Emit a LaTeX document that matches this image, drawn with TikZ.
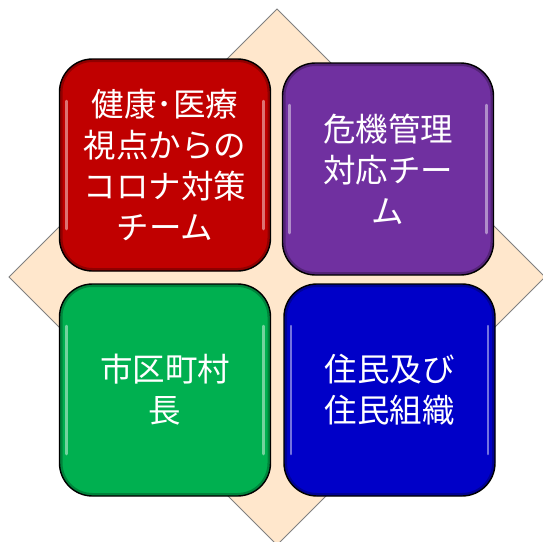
\documentclass[tikz,border=0pt]{standalone}
\usepackage{fontspec}
\newfontfamily\jp{Noto Sans CJK JP}
\definecolor{peach}{HTML}{FFE7CC}
\definecolor{cred}{HTML}{C00000}
\definecolor{cpurple}{HTML}{7030A0}
\definecolor{cgreen}{HTML}{00B050}
\definecolor{cblue}{HTML}{0000C8}
\tikzset{
  gloss/.style={
    path picture={
      \draw[white,opacity=0.45,line width=2.5pt,line cap=round]
        ([xshift=7pt,yshift=-42pt]path picture bounding box.north west) --
        ([xshift=7pt,yshift=42pt]path picture bounding box.south west);
      \draw[white,opacity=0.45,line width=2.5pt,line cap=round]
        ([xshift=-7pt,yshift=-42pt]path picture bounding box.north east) --
        ([xshift=-7pt,yshift=42pt]path picture bounding box.south east);
      \draw[black,opacity=0.25,line width=6pt,rounded corners=33pt]
        (path picture bounding box.south west) rectangle (path picture bounding box.north east);
    }},
  tile/.style={draw=black,line width=1.4pt,fill=#1,rounded corners=33pt,
    minimum width=211pt,minimum height=212pt,inner sep=0pt,
    text=white,align=center,gloss,
    font=\jp\fontsize{32.5}{41}\selectfont},
  diam/.style={fill=peach,draw=gray,line width=0.8pt}
}
\begin{document}
\begin{tikzpicture}[x=1pt,y=-1pt]
\useasboundingbox (0,0) rectangle (543,541);
\clip (0,0) rectangle (543,541);
\coordinate (dt) at (277,9);
\coordinate (dr) at (545,277);
\coordinate (db) at (277,545);
\coordinate (dl) at (9,277);
\path[diam] (dt) -- (dr) -- (db) -- (dl) -- cycle;
\node[tile=cred] (red) at (165,165) {健康･医療\\視点からの\\コロナ対策\\チーム};
\node[tile=cpurple] (purple) at (388,169) {危機管理\\対応チー\\ム};
\node[tile=cgreen] (green) at (165,390) {市区町村\\長};
\node[tile=cblue] (blue) at (389.5,390) {住民及び\\住民組織};
\end{tikzpicture}
\end{document}
